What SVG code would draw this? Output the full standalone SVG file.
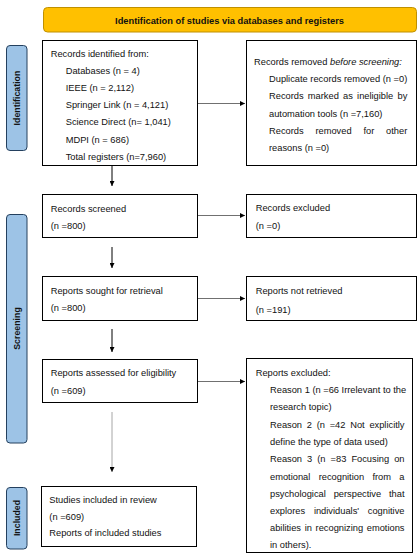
<svg xmlns="http://www.w3.org/2000/svg" width="419" height="557" viewBox="0 0 419 557">
<defs>
<style>
text{font-family:"Liberation Sans",Arial,sans-serif;font-size:9.3px;fill:#111}
.b{font-weight:bold}
.side{font-weight:bold;font-size:8.8px;text-anchor:middle}
.box{fill:#fff;stroke:#000;stroke-width:1}
.bar{fill:#9DC3E6;stroke:#24405e;stroke-width:1}
.hdr{fill:#FFC000;stroke:#BF9000;stroke-width:1}
.h{stroke:#707070;stroke-width:1;fill:none}
.v{stroke:#000;stroke-width:1;fill:none}
.vg{stroke:#a6a6a6;stroke-width:1;fill:none}
</style>
<marker id="ah" viewBox="0 0 10 10" refX="10" refY="5" markerWidth="5" markerHeight="5" markerUnits="userSpaceOnUse" orient="auto">
<path d="M0,0 L10,5 L0,10 z" fill="#000"/>
</marker>
</defs>

<g id="header">
<rect class="hdr" x="43.5" y="7.5" width="373" height="24.5" rx="4"/>
<text class="b" x="229.5" y="24.3" text-anchor="middle">Identification of studies via databases and registers</text>
</g>

<g id="bar-identification">
<rect class="bar" x="6.5" y="45.5" width="20.5" height="105" rx="3.5"/>
<text class="side" transform="translate(19.8,98) rotate(-90)">Identification</text>
</g>
<g id="bar-screening">
<rect class="bar" x="6.5" y="214.5" width="20.5" height="228.5" rx="3.5"/>
<text class="side" transform="translate(19.8,328.5) rotate(-90)">Screening</text>
</g>
<g id="bar-included">
<rect class="bar" x="6.5" y="487.5" width="20.5" height="61.5" rx="3.5"/>
<text class="side" transform="translate(19.8,518) rotate(-90)">Included</text>
</g>

<g id="connectors">
<line class="v" x1="112" y1="166" x2="112" y2="186" marker-end="url(#ah)"/>
<line class="h" x1="197.5" y1="103.5" x2="245" y2="103.5" marker-end="url(#ah)"/>
<line class="h" x1="197.5" y1="215.5" x2="245" y2="215.5" marker-end="url(#ah)"/>
<line class="v" x1="112" y1="247" x2="112" y2="268" marker-end="url(#ah)"/>
<line class="h" x1="197.5" y1="298.5" x2="245" y2="298.5" marker-end="url(#ah)"/>
<line class="v" x1="112" y1="329" x2="112" y2="352" marker-end="url(#ah)"/>
<line class="h" x1="197.5" y1="381.5" x2="245" y2="381.5" marker-end="url(#ah)"/>
<line class="vg" x1="112" y1="412" x2="112" y2="472" marker-end="url(#ah)"/>
</g>

<g id="records-identified">
<rect class="box" x="42.5" y="40.5" width="155" height="125"/>
<text x="50.7" y="56.5">Records identified from:</text>
<text x="65.7" y="73.7">Databases (n = 4)</text>
<text x="65.7" y="90.9">IEEE (n = 2,112)</text>
<text x="65.7" y="108.1">Springer Link (n = 4,121)</text>
<text x="65.7" y="125.3">Science Direct (n= 1,041)</text>
<text x="65.7" y="142.5">MDPI (n = 686)</text>
<text x="65.7" y="159.7">Total registers (n=7,960)</text>
</g>

<g id="records-removed">
<rect class="box" x="246.5" y="40.5" width="170" height="125"/>
<text x="254" y="65">Records removed <tspan font-style="italic">before screening:</tspan></text>
<text x="269" y="82.2">Duplicate records removed (n =0)</text>
<text y="99.4"><tspan x="269">Records</tspan><tspan x="307.83">marked</tspan><tspan x="343.05">as</tspan><tspan x="357.08">ineligible</tspan><tspan x="397.47">by</tspan></text>
<text x="269" y="116.6">automation tools (n =7,160)</text>
<text y="133.8"><tspan x="269">Records</tspan><tspan x="315.44">removed</tspan><tspan x="363.44">for</tspan><tspan x="386.11">other</tspan></text>
<text x="269" y="151">reasons (n =0)</text>
</g>

<g id="records-screened">
<rect class="box" x="42.5" y="194.5" width="155" height="43"/>
<text x="50.7" y="211.5">Records screened</text>
<text x="50.7" y="229.3">(n =800)</text>
</g>

<g id="records-excluded">
<rect class="box" x="246.5" y="194.5" width="170" height="43"/>
<text x="255.7" y="211">Records excluded</text>
<text x="255.7" y="228.7">(n =0)</text>
</g>

<g id="reports-sought">
<rect class="box" x="42.5" y="276.5" width="155" height="44"/>
<text x="50.7" y="293.5">Reports sought for retrieval</text>
<text x="50.7" y="311.3">(n =800)</text>
</g>

<g id="reports-not-retrieved">
<rect class="box" x="246.5" y="276.5" width="170" height="44"/>
<text x="255.7" y="294">Reports not retrieved</text>
<text x="255.7" y="312.5">(n =191)</text>
</g>

<g id="reports-assessed">
<rect class="box" x="42.5" y="359.5" width="155" height="43"/>
<text x="50.7" y="376">Reports assessed for eligibility</text>
<text x="50.7" y="394.3">(n =609)</text>
</g>

<g id="reports-excluded">
<rect class="box" x="246.5" y="358.5" width="166" height="194"/>
<text x="255.7" y="375.7">Reports excluded:</text>
<text x="270" y="393">Reason 1 (n =66 Irrelevant to the</text>
<text x="270" y="410.3">research topic)</text>
<text y="427.6"><tspan x="270">Reason</tspan><tspan x="306.78">2</tspan><tspan x="316.68">(n</tspan><tspan x="329.68">=42</tspan><tspan x="350.18">Not</tspan><tspan x="369.38">explicitly</tspan></text>
<text x="270" y="444.9">define the type of data used)</text>
<text y="462.2"><tspan x="270">Reason</tspan><tspan x="307.08">3</tspan><tspan x="317.28">(n</tspan><tspan x="330.58">=83</tspan><tspan x="351.38">Focusing</tspan><tspan x="394.14">on</tspan></text>
<text y="479.5"><tspan x="270">emotional</tspan><tspan x="318.63">recognition</tspan><tspan x="372.43">from</tspan><tspan x="399.34">a</tspan></text>
<text y="496.8"><tspan x="270">psychological</tspan><tspan x="333.63">perspective</tspan><tspan x="388.99">that</tspan></text>
<text y="514.1"><tspan x="270">explores</tspan><tspan x="313.88">individuals'</tspan><tspan x="367.81">cognitive</tspan></text>
<text y="531.4"><tspan x="270">abilities</tspan><tspan x="304.67">in</tspan><tspan x="315.57">recognizing</tspan><tspan x="366.78">emotions</tspan></text>
<text x="270" y="548.4">in others).</text>
</g>

<g id="studies-included">
<rect class="box" x="41.5" y="486.5" width="155" height="60"/>
<text x="49.3" y="502.7">Studies included in review</text>
<text x="49.3" y="520">(n =609)</text>
<text x="49.3" y="536.3">Reports of included studies</text>
</g>
</svg>
